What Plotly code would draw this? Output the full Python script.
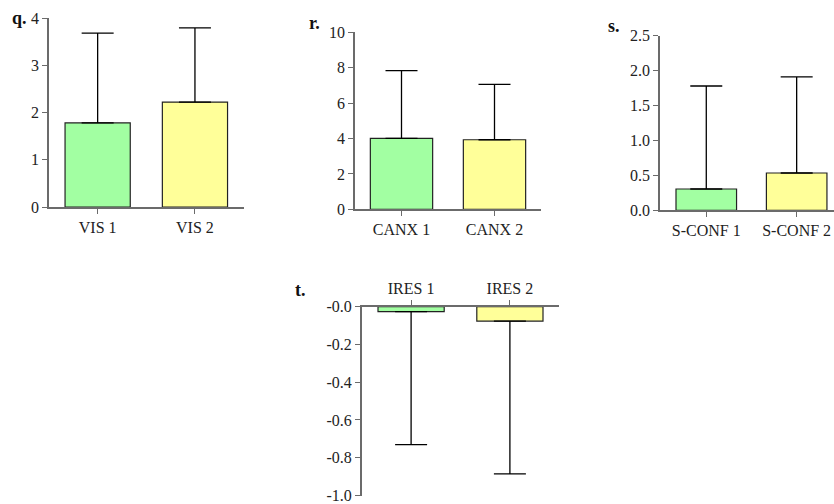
import plotly.graph_objects as go

W, H = 834, 504

q_cats = ["VIS 1", "VIS 2"]
q_vals = [1.78, 2.22]
q_upper = [3.68, 3.79]

r_cats = ["CANX 1", "CANX 2"]
r_vals = [4.01, 3.93]
r_upper = [7.83, 7.06]

s_cats = ["S-CONF 1", "S-CONF 2"]
s_vals = [0.305, 0.534]
s_upper = [1.78, 1.91]

t_cats = ["IRES 1", "IRES 2"]
t_vals = [-0.026, -0.076]
t_lower = [-0.731, -0.885]

colors = ["#A2FFA2", "#FFFF99"]
FONT = "Liberation Serif"
AX = "#6b6b6b"


def px_x(a, b):
    return [a / W, b / W]


def px_y(bottom, top):
    return [1 - bottom / H, 1 - top / H]


fig = go.Figure()


def add_panel(idx, cats, vals, ext, up=True):
    xa = "x" if idx == 1 else f"x{idx}"
    ya = "y" if idx == 1 else f"y{idx}"
    if up:
        err = dict(type="data", symmetric=False,
                   array=[e - v for e, v in zip(ext, vals)],
                   arrayminus=[0] * len(vals),
                   color="black", thickness=1.3, width=16)
    else:
        err = dict(type="data", symmetric=False,
                   array=[0] * len(vals),
                   arrayminus=[v - e for e, v in zip(ext, vals)],
                   color="black", thickness=1.3, width=16)
    fig.add_trace(go.Bar(x=list(range(len(cats))), y=vals, xaxis=xa, yaxis=ya,
                         width=0.67,
                         marker=dict(color=colors, line=dict(color="#222", width=1.2)),
                         error_y=err, showlegend=False))


add_panel(1, q_cats, q_vals, q_upper)
add_panel(2, r_cats, r_vals, r_upper)
add_panel(3, s_cats, s_vals, s_upper)
add_panel(4, t_cats, t_vals, t_lower, up=False)

tickfont = dict(family=FONT, size=16, color="#222")


def xaxis(dom, anchor, cats, rng, side="bottom"):
    return dict(domain=dom, anchor=anchor, range=rng, tickmode="array",
                tickvals=list(range(len(cats))), ticktext=cats,
                showline=True, linecolor=AX, linewidth=1.5,
                ticks="outside", ticklen=5, tickcolor=AX, tickwidth=1.3,
                showgrid=False, zeroline=False, tickfont=tickfont, side=side,
                fixedrange=True, automargin=False, ticklabeloverflow="allow")


def yaxis(dom, anchor, rng, tickvals, ticktext):
    return dict(domain=dom, anchor=anchor, range=rng, tickmode="array",
                tickvals=tickvals, ticktext=ticktext,
                showline=True, linecolor=AX, linewidth=1.5,
                ticks="outside", ticklen=5, tickcolor=AX, tickwidth=1.3,
                showgrid=False, zeroline=False, tickfont=tickfont,
                fixedrange=True, automargin=False, ticklabeloverflow="allow")


fig.update_layout(
    template="none",
    width=W, height=H, margin=dict(l=0, r=0, t=0, b=0, pad=0, autoexpand=False),
    paper_bgcolor="white", plot_bgcolor="white",
    font=dict(family=FONT, color="#222"),
    xaxis=xaxis(px_x(49, 243.6), "y", q_cats, [-0.5, 1.5]),
    yaxis=yaxis(px_y(207, 18), "x", [0, 4], [0, 1, 2, 3, 4], ["0", "1", "2", "3", "4"]),
    xaxis2=xaxis(px_x(355, 541), "y2", r_cats, [-0.5, 1.5]),
    yaxis2=yaxis(px_y(209.3, 32.3), "x2", [0, 10], [0, 2, 4, 6, 8, 10],
                 ["0", "2", "4", "6", "8", "10"]),
    xaxis3=xaxis(px_x(660, 834), "y3", s_cats, [-0.512, 1.413]),
    yaxis3=yaxis(px_y(210.3, 35.7), "x3", [0, 2.5], [0, 0.5, 1.0, 1.5, 2.0, 2.5],
                 ["0.0", "0.5", "1.0", "1.5", "2.0", "2.5"]),
    xaxis4=xaxis(px_x(361.7, 559.3), "y4", t_cats, [-0.5, 1.5], side="top"),
    yaxis4=yaxis(px_y(495.5, 306.7), "x4", [-1.0, 0], [-1.0, -0.8, -0.6, -0.4, -0.2, 0],
                 ["-1.0", "-0.8", "-0.6", "-0.4", "-0.2", "-0.0"]),
)

labels = [("q.", 19, 18), ("r.", 314, 23), ("s.", 614, 26), ("t.", 300, 290)]
for txt, x, y in labels:
    fig.add_annotation(text=f"<b>{txt}</b>", x=x / W, y=1 - y / H, xref="paper", yref="paper",
                       showarrow=False, font=dict(family=FONT, size=18, color="#111"),
                       xanchor="center", yanchor="middle")

fig.write_html("out.html", config={"displayModeBar": False},
               post_script="document.body.style.margin='0';document.body.style.overflow='hidden';")
